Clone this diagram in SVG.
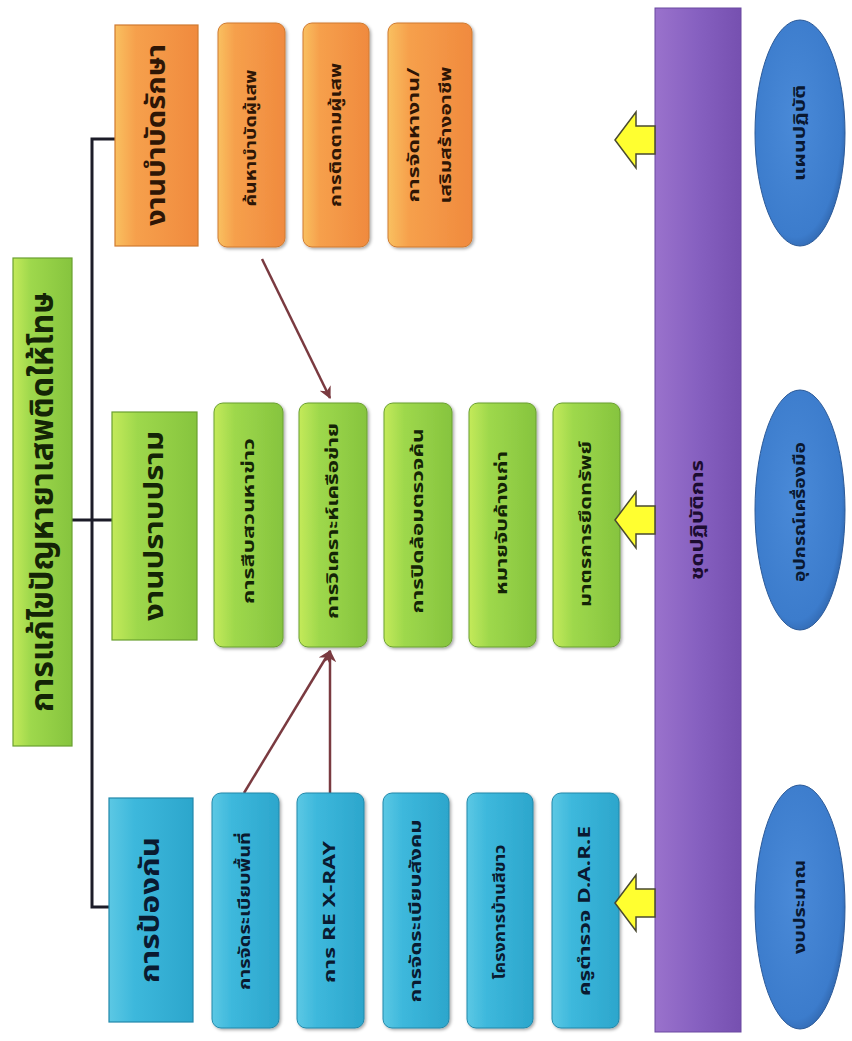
<svg xmlns="http://www.w3.org/2000/svg" width="852" height="1041" viewBox="0 0 852 1041">
<defs>
<linearGradient id="gOr" x1="0" y1="0" x2="1" y2="0"><stop offset="0" stop-color="#f9c060"/><stop offset="0.25" stop-color="#f6a04c"/><stop offset="1" stop-color="#f08a3e"/></linearGradient>
<linearGradient id="gGr" x1="0" y1="0" x2="1" y2="0"><stop offset="0" stop-color="#c4ea5a"/><stop offset="0.3" stop-color="#9ed84c"/><stop offset="1" stop-color="#86c43e"/></linearGradient>
<linearGradient id="gBl" x1="0" y1="0" x2="1" y2="0"><stop offset="0" stop-color="#5cc8e4"/><stop offset="0.3" stop-color="#3db8dc"/><stop offset="1" stop-color="#2ca6cc"/></linearGradient>
<linearGradient id="gPu" x1="0" y1="0" x2="1" y2="0"><stop offset="0" stop-color="#9a72cc"/><stop offset="0.5" stop-color="#8660c0"/><stop offset="1" stop-color="#7650b0"/></linearGradient>
<radialGradient id="gEl" cx="0.45" cy="0.45" r="0.6"><stop offset="0" stop-color="#4a8ad8"/><stop offset="0.85" stop-color="#3c7ccc"/><stop offset="1" stop-color="#2e62a8"/></radialGradient>
<filter id="sh" x="-20%" y="-10%" width="140%" height="120%"><feDropShadow dx="1.5" dy="1.5" stdDeviation="1.5" flood-color="#000" flood-opacity="0.35"/></filter>
<marker id="ah" viewBox="0 0 10 10" refX="9" refY="5" markerWidth="5" markerHeight="5" orient="auto"><path d="M0,0 L10,5 L0,10 L3,5 Z" fill="#7a3a40"/></marker>
</defs>
<style>
text{font-family:"Noto Sans Thai","Noto Sans","DejaVu Sans",sans-serif;text-anchor:middle;dominant-baseline:central;font-weight:bold}
.head{stroke-width:1.2}
.or{fill:url(#gOr);stroke:#d07a30}
.gr{fill:url(#gGr);stroke:#6aa030}
.bl{fill:url(#gBl);stroke:#2288aa}
.sub{filter:url(#sh)}
.tor{fill:#2e1606}
.tgr{fill:#142406}
.tbl{fill:#0a1a30}
.hd{font-size:26px}
.sb{font-size:16px}
.conn{stroke:#1c1c28;stroke-width:3;fill:none}
.arr{stroke:#7a3a40;stroke-width:2.5;fill:none;marker-end:url(#ah)}
.ya{fill:#ffff30;stroke:#4a4a30;stroke-width:1.5}
</style>
<rect width="852" height="1041" fill="#ffffff"/>

<g id="connectors">
<polyline class="conn" points="115,139 92,139 92,907 115,907"/>
<line class="conn" x1="72" y1="520" x2="112" y2="520"/>
<line class="arr" x1="262" y1="259" x2="330" y2="398"/>
<line class="arr" x1="244" y1="793" x2="330" y2="651"/>
<line class="arr" x1="330" y1="793" x2="330" y2="651"/>
</g>

<g id="title">
<rect x="13" y="258" width="59" height="488" fill="url(#gGr)" stroke="#6aa030" stroke-width="1.2"/>
<text transform="translate(43,502) rotate(-90)" style="font-size:31px" class="tgr" textLength="420" lengthAdjust="spacingAndGlyphs">การแก้ไขปัญหายาเสพติดให้โทษ</text>
</g>

<g id="orange-head"><rect class="or head" x="115" y="25" width="83" height="221"/><text class="tor hd" transform="translate(157,135) rotate(-90)" textLength="182" lengthAdjust="spacingAndGlyphs">งานบำบัดรักษา</text></g>
<g id="orange-1"><rect class="or sub" x="218" y="23" width="67" height="224" rx="9"/><text class="tor sb" transform="translate(251,138) rotate(-90)" textLength="137" lengthAdjust="spacingAndGlyphs">ค้นหาบำบัดผู้เสพ</text></g>
<g id="orange-2"><rect class="or sub" x="303" y="23" width="66" height="224" rx="9"/><text class="tor sb" transform="translate(336,135) rotate(-90)" textLength="144" lengthAdjust="spacingAndGlyphs">การติดตามผู้เสพ</text></g>
<g id="orange-3"><rect class="or sub" x="388" y="23" width="84" height="224" rx="9"/><text class="tor sb" transform="translate(414,135) rotate(-90)" textLength="135" lengthAdjust="spacingAndGlyphs">การจัดหางาน/</text><text class="tor sb" transform="translate(446,135) rotate(-90)" textLength="137" lengthAdjust="spacingAndGlyphs">เสริมสร้างอาชีพ</text></g>

<g id="green-head"><rect class="gr head" x="112" y="412" width="85" height="228"/><text class="tgr hd" transform="translate(155,526) rotate(-90)" textLength="190" lengthAdjust="spacingAndGlyphs">งานปราบปราม</text></g>
<g id="green-1"><rect class="gr sub" x="214" y="403" width="69" height="244" rx="9"/><text class="tgr sb" transform="translate(249,521) rotate(-90)" textLength="166" lengthAdjust="spacingAndGlyphs">การสืบสวนหาข่าว</text></g>
<g id="green-2"><rect class="gr sub" x="299" y="403" width="68" height="244" rx="9"/><text class="tgr sb" transform="translate(333,521) rotate(-90)" textLength="196" lengthAdjust="spacingAndGlyphs">การวิเคราะห์เครือข่าย</text></g>
<g id="green-3"><rect class="gr sub" x="384" y="403" width="68" height="244" rx="9"/><text class="tgr sb" transform="translate(418,521) rotate(-90)" textLength="185" lengthAdjust="spacingAndGlyphs">การปิดล้อมตรวจค้น</text></g>
<g id="green-4"><rect class="gr sub" x="469" y="403" width="67" height="244" rx="9"/><text class="tgr sb" transform="translate(502,523) rotate(-90)" textLength="144" lengthAdjust="spacingAndGlyphs">หมายจับค้างเก่า</text></g>
<g id="green-5"><rect class="gr sub" x="553" y="403" width="67" height="244" rx="9"/><text class="tgr sb" transform="translate(586,524) rotate(-90)" textLength="166" lengthAdjust="spacingAndGlyphs">มาตรการยึดทรัพย์</text></g>

<g id="blue-head"><rect class="bl head" x="109" y="798" width="84" height="224"/><text class="tbl hd" transform="translate(151,910) rotate(-90)" textLength="146" lengthAdjust="spacingAndGlyphs">การป้องกัน</text></g>
<g id="blue-1"><rect class="bl sub" x="212" y="793" width="67" height="235" rx="9"/><text class="tbl sb" transform="translate(245,911) rotate(-90)" textLength="158" lengthAdjust="spacingAndGlyphs">การจัดระเบียบพื้นที่</text></g>
<g id="blue-2"><rect class="bl sub" x="297" y="793" width="67" height="235" rx="9"/><text class="tbl sb" transform="translate(330,912) rotate(-90)" textLength="142" lengthAdjust="spacingAndGlyphs">การ RE X-RAY</text></g>
<g id="blue-3"><rect class="bl sub" x="383" y="793" width="66" height="235" rx="9"/><text class="tbl sb" transform="translate(416,911) rotate(-90)" textLength="183" lengthAdjust="spacingAndGlyphs">การจัดระเบียบสังคม</text></g>
<g id="blue-4"><rect class="bl sub" x="467" y="793" width="66" height="235" rx="9"/><text class="tbl sb" transform="translate(500,912) rotate(-90)" textLength="135" lengthAdjust="spacingAndGlyphs">โครงการบ้านสีขาว</text></g>
<g id="blue-5"><rect class="bl sub" x="552" y="793" width="67" height="235" rx="9"/><text class="tbl sb" transform="translate(585,911) rotate(-90)" textLength="170" lengthAdjust="spacingAndGlyphs">ครูตำรวจ D.A.R.E</text></g>

<g id="ops-bar"><rect x="655" y="8" width="86" height="1024" fill="url(#gPu)" stroke="#6a48a0" stroke-width="1"/><text transform="translate(698,520) rotate(-90)" style="font-size:17px" fill="#1c0c30" textLength="120" lengthAdjust="spacingAndGlyphs">ชุดปฏิบัติการ</text></g>

<g id="yellow-arrows">
<polygon class="ya" points="615,140 636,112 636,126 655,126 655,154 636,154 636,168"/>
<polygon class="ya" points="615,520 636,492 636,506 655,506 655,534 636,534 636,548"/>
<polygon class="ya" points="615,903 636,875 636,889 655,889 655,917 636,917 636,931"/>
</g>

<g id="plan"><ellipse cx="800" cy="133" rx="45" ry="113" fill="url(#gEl)" stroke="#2c5a98" stroke-width="1"/><text transform="translate(800,133) rotate(-90)" style="font-size:15px" fill="#0a1830" textLength="96" lengthAdjust="spacingAndGlyphs">แผนปฏิบัติ</text></g>
<g id="equipment"><ellipse cx="800" cy="510" rx="45" ry="120" fill="url(#gEl)" stroke="#2c5a98" stroke-width="1"/><text transform="translate(800,512) rotate(-90)" style="font-size:15px" fill="#0a1830" textLength="140" lengthAdjust="spacingAndGlyphs">อุปกรณ์เครื่องมือ</text></g>
<g id="budget"><ellipse cx="800" cy="907" rx="45" ry="122" fill="url(#gEl)" stroke="#2c5a98" stroke-width="1"/><text transform="translate(800,907) rotate(-90)" style="font-size:15px" fill="#0a1830" textLength="94" lengthAdjust="spacingAndGlyphs">งบประมาณ</text></g>
</svg>
